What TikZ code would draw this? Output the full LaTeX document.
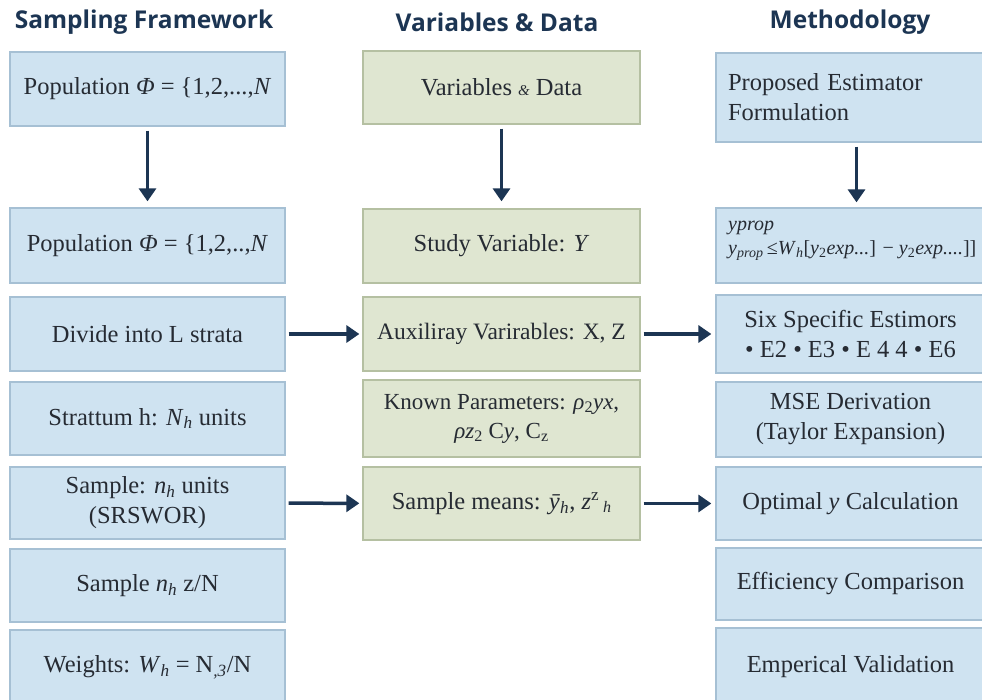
\documentclass[tikz,border=0pt]{standalone}
\usepackage{fontspec}
\setmainfont{Liberation Serif}
\newfontfamily\headfont{Open Sans}
\usetikzlibrary{arrows.meta}
\definecolor{blfill}{HTML}{CFE3F1}
\definecolor{bldraw}{HTML}{A6C0D4}
\definecolor{grfill}{HTML}{DFE6D1}
\definecolor{grdraw}{HTML}{B5C0A2}
\definecolor{navy}{HTML}{1C3553}
\definecolor{txt}{HTML}{262B33}
\newcommand{\sbh}{\textsubscript{\textit{h}}}
\begin{document}
\begin{tikzpicture}[x=1pt,y=-1pt,
  bodyfont/.style={font=\fontsize{24.5}{30}\selectfont, text=txt},
  blbox/.style={draw=bldraw, fill=blfill, line width=1.3pt, inner sep=0pt, align=center, bodyfont},
  grbox/.style={draw=grdraw, fill=grfill, line width=1.3pt, inner sep=0pt, align=center, bodyfont},
  lcol/.style={blbox, minimum width=275pt},
  mcol/.style={grbox, minimum width=277pt},
  rcol/.style={blbox, minimum width=269pt},
  head/.style={font=\headfont\bfseries\fontsize{24.5}{28}\selectfont, text=navy},
  arr/.style={draw=navy, line width=3.5pt, -{Triangle[width=17pt,length=13pt]}}]
\clip (0,0) rectangle (982,700);
\fill[white] (0,0) rectangle (982,700);

% headers
\node[head] (h1) at (144,22) {Sampling Framework};
\node[head] (h2) at (497,22) {Variables \& Data};
\node[head] (h3) at (850,22) {Methodology};

% left column
\node[lcol, minimum height=74pt] (l1) at (147.5,89) {Population \textit{Φ} = \{1,2,...,\textit{N}};
\node[lcol, minimum height=75pt] (l2) at (147.5,245.5) {Population \textit{Φ} = \{1,2,..,\textit{N}};
\node[lcol, minimum height=74pt] (l3) at (147.5,334) {Divide into L strata};
\node[lcol, minimum height=73pt] (l4) at (147.5,418.5) {Strattum h: \textit{N}\sbh{} units};
\node[lcol, minimum height=72pt] (l5) at (147.5,503) {Sample: \textit{n}\sbh{} units\\(SRSWOR)};
\node[lcol, minimum height=73pt] (l6) at (147.5,585.5) {Sample \textit{n}\sbh{} z/N};
\node[lcol, minimum height=75pt] (l7) at (147.5,667.5) {Weights: \textit{W}\sbh{} = N\textsubscript{\textit{,3}}/N};

% middle column
\node[mcol, minimum height=73pt] (m1) at (501.5,87.5) {Variables {\fontsize{15}{15}\selectfont\textit{\&}} Data};
\node[mcol, minimum height=74pt] (m2) at (501.5,246) {Study Variable: \textit{Y}};
\node[mcol, minimum height=74pt, font=\fontsize{23.5}{29}\selectfont] (m3) at (501.5,334) {Auxiliray Varirables: X, Z};
\node[mcol, minimum height=77pt, font=\fontsize{23}{29}\selectfont] (m4) at (501.5,418.5) {Known Parameters: \textit{ρ}\textsubscript{2}\textit{yx},\\\textit{ρz}\textsubscript{2} C\textit{y}, C\textsubscript{z}};
\node[mcol, minimum height=73pt] (m5) at (501.5,503.5) {Sample means: \textit{ȳ}\sbh, \textit{z}\textsuperscript{z}\,\raisebox{-0.3ex}{\fontsize{16}{16}\selectfont\textit{h}}};

% right column
\node[rcol, minimum height=89pt, text width=245pt, align=left] (r1) at (850.5,97.5) {Proposed Estimator\\Formulation};
\node[rcol, minimum height=75pt] (r2) at (850.5,245.5) {};
\node[anchor=north west, align=left, inner sep=0pt, font=\fontsize{20}{24}\selectfont, text=txt] (r2t) at (728,221)
  {\textit{yprop}\\\textit{y}\textsubscript{\textit{prop}}\,≤\textit{W}\textsubscript{\textit{h}}[\textit{y}\textsubscript{2}\textit{exp...}] − \textit{y}\textsubscript{2}\textit{exp....}]]};
\node[rcol, minimum height=78pt] (r3) at (850.5,334) {Six Specific Estimors\\• E2 • E3 • E 4 4 • E6};
\node[rcol, minimum height=75pt] (r4) at (850.5,419.5) {MSE Derivation\\(Taylor Expansion)};
\node[rcol, minimum height=73pt] (r5) at (850.5,503.5) {Optimal \textit{y} Calculation};
\node[rcol, minimum height=72pt] (r6) at (850.5,584) {Efficiency Comparison};
\node[rcol, minimum height=77pt] (r7) at (850.5,666.5) {Emperical Validation};

% arrows
\draw[arr, shorten <=4pt, shorten >=6pt] (l1) -- (l2);
\draw[arr, shorten <=4pt, shorten >=7pt] (m1) -- (m2);
\draw[arr, shorten <=4pt, shorten >=5pt] ([xshift=6pt]r1.south) -- ([xshift=6pt]r2.north);
\draw[arr, shorten <=3pt, shorten >=3pt] (l3) -- (m3);
\draw[arr, shorten <=3pt, shorten >=4pt] (m3) -- (r3);
\draw[arr, shorten <=3pt, shorten >=3pt] (l5) -- (m5);
\draw[arr, shorten <=3pt, shorten >=4pt] (m5) -- (r5);
\end{tikzpicture}
\end{document}
